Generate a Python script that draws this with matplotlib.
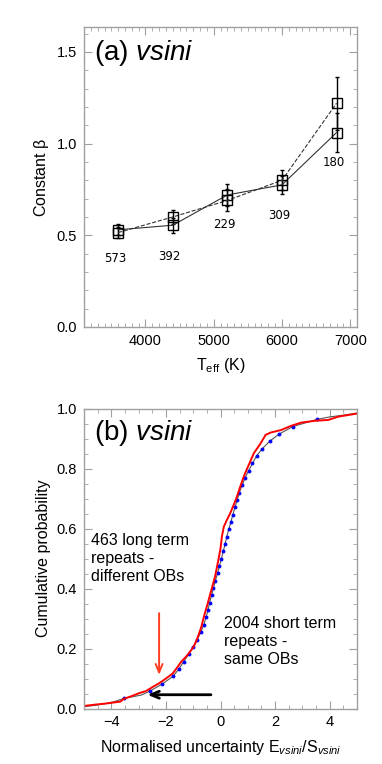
import numpy as np
import matplotlib
matplotlib.use('Agg')
import matplotlib.pyplot as plt
from matplotlib.ticker import MultipleLocator

plt.rcParams['font.family'] = ['Liberation Sans', 'DejaVu Sans']
plt.rcParams['mathtext.fontset'] = 'custom'
plt.rcParams['mathtext.rm'] = 'Liberation Sans'
plt.rcParams['mathtext.it'] = 'Liberation Sans:italic'

# panel (a): constant beta vs Teff
teff = [3600, 4400, 5200, 6000, 6800]
beta_solid = [0.53, 0.555, 0.72, 0.775, 1.06]
err_solid = [0.03, 0.04, 0.06, 0.05, 0.105]
beta_dashed = [0.515, 0.60, 0.69, 0.80, 1.22]
err_dashed = [0.03, 0.04, 0.06, 0.055, 0.145]
n_labels = ['573', '392', '229', '309', '180']
label_y = [0.373, 0.386, 0.56, 0.609, 0.897]

# panel (b): cumulative distributions
red_x = [-5.05, -4.6, -4.17, -3.67, -3.55, -3.24, -2.99, -2.74, -2.50, -2.25, -2.0,
         -1.75, -1.57, -1.44, -1.26, -1.07, -0.95, -0.83, -0.70, -0.61, -0.54, -0.47,
         -0.37, -0.20, -0.08, 0.0, 0.05, 0.12, 0.23, 0.35, 0.48, 0.60, 0.72, 0.85,
         1.0, 1.22, 1.47, 1.65, 1.84, 2.21, 2.58, 2.95, 3.45, 3.95, 4.32, 5.06]
red_y = [0.008, 0.013, 0.017, 0.023, 0.032, 0.042, 0.051, 0.058, 0.071, 0.084, 0.10,
         0.117, 0.139, 0.156, 0.173, 0.195, 0.212, 0.239, 0.273, 0.306, 0.328, 0.35,
         0.384, 0.44, 0.495, 0.534, 0.573, 0.606, 0.628, 0.65, 0.678, 0.706, 0.739, 0.773,
         0.805, 0.851, 0.884, 0.912, 0.92, 0.928, 0.942, 0.953, 0.959, 0.962, 0.973, 0.984]

dot_x = [-3.52, -2.59, -2.13, -1.75, -1.53, -1.35, -1.17, -1.01, -0.85, -0.72, -0.61,
         -0.53, -0.46, -0.40, -0.33, -0.26, -0.19, -0.11, -0.04, 0.03, 0.10, 0.17, 0.23,
         0.30, 0.38, 0.45, 0.53, 0.61, 0.69, 0.79, 0.90, 1.03, 1.17, 1.32, 1.53, 1.80,
         2.15, 2.65, 3.55]
dot_y = [0.034, 0.058, 0.082, 0.107, 0.131, 0.156, 0.181, 0.206, 0.230, 0.255, 0.280,
         0.304, 0.328, 0.353, 0.377, 0.402, 0.426, 0.451, 0.475, 0.500, 0.524, 0.549, 0.573,
         0.597, 0.622, 0.646, 0.671, 0.695, 0.720, 0.744, 0.769, 0.793, 0.817, 0.842, 0.866,
         0.891, 0.915, 0.940, 0.964]

gray_x = [-5.0, -4.5, -4.0] + dot_x[:1] + [-2.9] + dot_x[1:] + [4.0, 4.6, 5.0]
gray_y = [0.006, 0.012, 0.02] + dot_y[:1] + [0.045] + dot_y[1:] + [0.972, 0.979, 0.985]

spine_col = '#a0a0a0'


def style_axes(ax):
    for s in ax.spines.values():
        s.set_color(spine_col)
        s.set_linewidth(1.0)
    ax.tick_params(which='both', direction='in', top=True, right=True,
                   color=spine_col, labelsize=10.5, pad=5)
    ax.tick_params(which='major', length=6)
    ax.tick_params(which='minor', length=3)


fig = plt.figure(figsize=(3.82, 7.64), dpi=100)

# ---- panel (a)
ax1 = fig.add_axes([0.22, 0.572, 0.7146, 0.3927])
ax1.errorbar(teff, beta_solid, yerr=err_solid, fmt='s', mfc='none', mec='black',
             ms=7, mew=1.0, ecolor='black', elinewidth=1.0, capsize=1.5, ls='-',
             color='#333333', lw=0.8)
ax1.errorbar(teff, beta_dashed, yerr=err_dashed, fmt='s', mfc='none', mec='black',
             ms=7, mew=1.0, ecolor='black', elinewidth=1.0, capsize=1.5, ls='--',
             color='#333333', lw=0.8)
for x, lab, ly in zip(teff, n_labels, label_y):
    ax1.text(x - 45, ly, lab, ha='center', va='center', fontsize=8.5,
             family='DejaVu Sans')
ax1.set_xlim(3100, 7100)
ax1.set_ylim(0, 1.636)
ax1.xaxis.set_major_locator(MultipleLocator(1000))
ax1.xaxis.set_minor_locator(MultipleLocator(100))
ax1.yaxis.set_major_locator(MultipleLocator(0.5))
ax1.yaxis.set_minor_locator(MultipleLocator(0.1))
ax1.yaxis.set_major_formatter(matplotlib.ticker.FormatStrFormatter('%.1f'))
style_axes(ax1)
ax1.set_xlabel(r'T$_{\mathrm{eff}}$ (K)', fontsize=11.5, labelpad=6)
ax1.set_ylabel(r'Constant $\mathrm{\beta}$', fontsize=11.5)
ax1.text(0.037, 0.912, r'(a) $\mathit{vsini}$', transform=ax1.transAxes,
         fontsize=20, va='center', ha='left')

# ---- panel (b)
ax2 = fig.add_axes([0.22, 0.0726, 0.7146, 0.3927])
ax2.plot(gray_x, gray_y, color='#555555', lw=0.8)
ax2.plot(dot_x, dot_y, 'o', color='blue', ms=2.8, mec='none')
ax2.plot(red_x, red_y, color='red', lw=1.4)
ax2.set_xlim(-5, 5)
ax2.set_ylim(0, 1.0)
ax2.xaxis.set_major_locator(MultipleLocator(2))
ax2.xaxis.set_minor_locator(MultipleLocator(0.5))
ax2.yaxis.set_major_locator(MultipleLocator(0.2))
ax2.yaxis.set_minor_locator(MultipleLocator(0.05))
ax2.yaxis.set_major_formatter(matplotlib.ticker.FormatStrFormatter('%.1f'))
style_axes(ax2)
ax2.set_xlabel(r'Normalised uncertainty E$_{\mathit{vsini}}$/S$_{\mathit{vsini}}$',
               fontsize=11.5, labelpad=6)
ax2.set_ylabel('Cumulative probability', fontsize=11.5)
ax2.text(0.037, 0.92, r'(b) $\mathit{vsini}$', transform=ax2.transAxes,
         fontsize=20, va='center', ha='left')

ax2.text(-4.73, 0.50, '463 long term\nrepeats -\ndifferent OBs', fontsize=11.5,
         va='center', ha='left', linespacing=1.25)
ax2.text(0.12, 0.222, '2004 short term\nrepeats -\nsame OBs', fontsize=11.5,
         va='center', ha='left', linespacing=1.25)
ax2.annotate('', xy=(-2.25, 0.103), xytext=(-2.25, 0.327),
             arrowprops=dict(arrowstyle='->,head_length=0.6,head_width=0.25',
                             color='#ff3c1e', lw=1.4))
ax2.annotate('', xy=(-2.78, 0.046), xytext=(-0.25, 0.046),
             arrowprops=dict(arrowstyle='->,head_length=0.6,head_width=0.25',
                             color='black', lw=2.0))

fig.savefig('out.png', dpi=100)
